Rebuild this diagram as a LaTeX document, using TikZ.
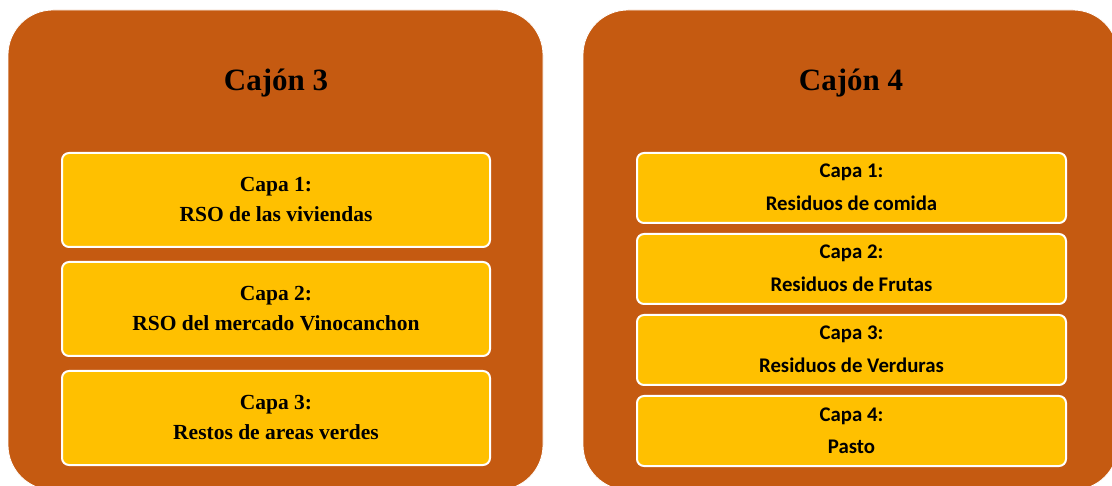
\documentclass[tikz,border=0pt]{standalone}
\usepackage{fontspec}
\setmainfont{Liberation Serif}
\newfontfamily\calfont{Carlito}
\definecolor{cajon}{RGB}{197,90,17}
\definecolor{capa}{RGB}{255,192,0}
\begin{document}
\begin{tikzpicture}[x=1pt,y=-1pt,
  bigbox/.style={draw=white, line width=0.8pt, fill=cajon, rounded corners=45pt, minimum width=535pt, minimum height=480pt, inner sep=0pt},
  layerL/.style={draw=white, line width=2pt, fill=capa, rounded corners=7pt, minimum width=428pt, minimum height=94pt, inner sep=0pt},
  layerR/.style={draw=white, line width=2pt, fill=capa, rounded corners=7pt, minimum width=429pt, minimum height=70pt, inner sep=0pt},
  title/.style={anchor=base, inner sep=0pt, font=\bfseries\fontsize{31}{36}\selectfont},
  txtL/.style={anchor=base, inner sep=0pt, font=\bfseries\fontsize{21.5}{26}\selectfont},
  txtR/.style={anchor=base, inner sep=0pt, font=\calfont\bfseries\fontsize{20.8}{25}\selectfont}]
\useasboundingbox (0,0) rectangle (1112,486);
% big boxes
\node[bigbox] (c3) at (275.5,250) {};
\node[bigbox] (c4) at (850.5,250) {};
\node[title] (t3) at (276,91) {Cajón 3};
\node[title] (t4) at (851,91) {Cajón 4};
% left layers
\node[layerL] (l1) at (276,200) {};
\node[layerL] (l2) at (276,309) {};
\node[layerL] (l3) at (276,418) {};
\node[txtL] (l1a) at (276,191.5) {Capa 1:};
\node[txtL] (l1b) at (276,221.5) {RSO de las viviendas};
\node[txtL] (l2a) at (276,300.5) {Capa 2:};
\node[txtL] (l2b) at (276,330.5) {RSO del mercado Vinocanchon};
\node[txtL] (l3a) at (276,409.5) {Capa 3:};
\node[txtL] (l3b) at (276,439.5) {Restos de areas verdes};
% right layers
\node[layerR] (r1) at (851.5,188) {};
\node[layerR] (r2) at (851.5,269) {};
\node[layerR] (r3) at (851.5,350) {};
\node[layerR] (r4) at (851.5,431) {};
\node[txtR] (r1a) at (851.5,178) {Capa 1:};
\node[txtR] (r1b) at (851.5,210.5) {Residuos de comida};
\node[txtR] (r2a) at (851.5,259) {Capa 2:};
\node[txtR] (r2b) at (851.5,291.5) {Residuos de Frutas};
\node[txtR] (r3a) at (851.5,340) {Capa 3:};
\node[txtR] (r3b) at (851.5,372.5) {Residuos de Verduras};
\node[txtR] (r4a) at (851.5,421) {Capa 4:};
\node[txtR] (r4b) at (851.5,453.5) {Pasto};
\end{tikzpicture}
\end{document}
